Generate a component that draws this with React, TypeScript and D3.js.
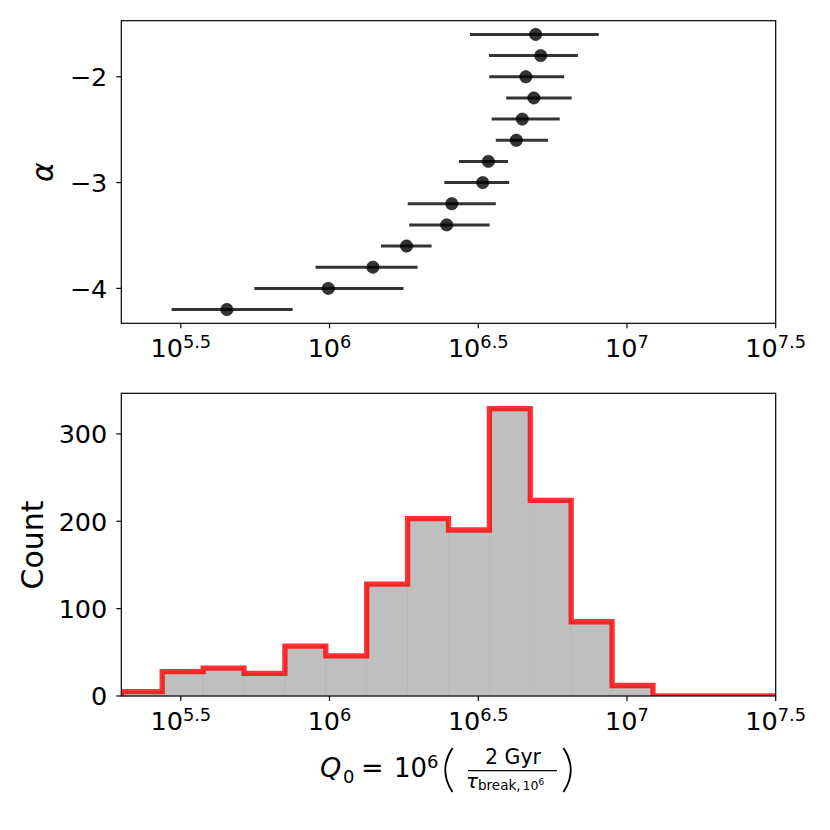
import React from "react";
import * as d3 from "d3";

// top panel: power-law slope vs log10(Q0) with 1-sigma range
const alphas = [-4.2, -4.0, -3.8, -3.6, -3.4, -3.2, -3.0, -2.8, -2.6, -2.4, -2.2, -2.0, -1.8, -1.6];
const logQ = [5.655, 5.996, 6.146, 6.259, 6.394, 6.411, 6.515, 6.534, 6.628, 6.648, 6.687, 6.66, 6.71, 6.693];
const logQLow = [5.469, 5.747, 5.953, 6.173, 6.268, 6.263, 6.386, 6.435, 6.559, 6.545, 6.594, 6.537, 6.536, 6.472];
const logQHigh = [5.876, 6.249, 6.296, 6.343, 6.538, 6.559, 6.604, 6.6, 6.735, 6.774, 6.814, 6.789, 6.835, 6.905];

// bottom panel: histogram of log10(Q0)
const binEdges = [5.3, 5.4375, 5.575, 5.7125, 5.85, 5.9875, 6.125, 6.2625, 6.4, 6.5375, 6.675, 6.8125, 6.95, 7.0875, 7.225, 7.3625, 7.5];
const counts = [5, 28, 32, 26, 57, 46, 128, 203, 190, 329, 224, 85, 12, 0, 0, 0];

const xTickExps = ["5.5", "6", "6.5", "7", "7.5"];
const alphaTicks = [-4, -3, -2];
const countTicks = [0, 100, 200, 300];

const font = "DejaVu Sans";
const left = 121.3;
const right = 775.7;
const top1 = 20.7;
const bot1 = 323.3;
const top2 = 393.3;
const bot2 = 696;

const XTicks = ({ x, y0 }: { x: d3.ScaleLogarithmic<number, number>; y0: number }) => (
  <g>
    {xTickExps.map((e) => {
      const px = x(Math.pow(10, +e));
      return (
        <g key={e}>
          <line x1={px} x2={px} y1={y0} y2={y0 + 5} stroke="black" strokeWidth={1.2} />
          <text x={px} y={y0 + 33.5} textAnchor="middle" fontFamily={font} fontSize={25.5}>
            10<tspan fontSize={17.8} dy={-9}>{e}</tspan>
          </text>
        </g>
      );
    })}
  </g>
);

export default function App() {
  const x = d3.scaleLog().domain([Math.pow(10, 5.3), Math.pow(10, 7.5)]).range([left, right]);
  const yA = d3.scaleLinear().domain([-4.33, -1.47]).range([bot1, top1]);
  const yC = d3.scaleLinear().domain([0, 346.5]).range([bot2, top2]);

  const stepPts: [number, number][] = [[x(Math.pow(10, binEdges[0])), yC(0)]];
  counts.forEach((c, i) => {
    stepPts.push([x(Math.pow(10, binEdges[i])), yC(c)]);
    stepPts.push([x(Math.pow(10, binEdges[i + 1])), yC(c)]);
  });
  stepPts.push([x(Math.pow(10, binEdges[binEdges.length - 1])), yC(0)]);
  const stepPath = d3.line()(stepPts) || "";

  return (
    <svg width={830} height={830} style={{ position: "absolute", left: 0, top: 0, background: "white" }}>
      <defs>
        <clipPath id="clip2">
          <rect x={left} y={top2} width={right - left} height={bot2 - top2} />
        </clipPath>
      </defs>

      {/* top panel */}
      {alphas.map((a, i) => (
        <g key={i}>
          <line
            x1={x(Math.pow(10, logQLow[i]))}
            x2={x(Math.pow(10, logQHigh[i]))}
            y1={yA(a)}
            y2={yA(a)}
            stroke="black"
            strokeOpacity={0.8}
            strokeWidth={3}
          />
          <circle cx={x(Math.pow(10, logQ[i]))} cy={yA(a)} r={6.2} fill="black" fillOpacity={0.8} stroke="black" strokeOpacity={0.5} strokeWidth={1} />
        </g>
      ))}
      <rect x={left} y={top1} width={right - left} height={bot1 - top1} fill="none" stroke="black" strokeWidth={1.2} />
      {alphaTicks.map((t) => (
        <g key={t}>
          <line x1={left - 5} x2={left} y1={yA(t)} y2={yA(t)} stroke="black" strokeWidth={1.2} />
          <text x={left - 14} y={yA(t) + 9.3} textAnchor="end" fontFamily={font} fontSize={25.5}>
            {"\u2212" + Math.abs(t)}
          </text>
        </g>
      ))}
      <XTicks x={x} y0={bot1} />
      <text transform="translate(53,172) rotate(-90)" textAnchor="middle" fontFamily={font} fontStyle="italic" fontSize={30}>
        α
      </text>

      {/* bottom panel */}
      {counts.map((c, i) =>
        c > 0 ? (
          <rect
            key={i}
            x={x(Math.pow(10, binEdges[i]))}
            y={yC(c)}
            width={x(Math.pow(10, binEdges[i + 1])) - x(Math.pow(10, binEdges[i]))}
            height={yC(0) - yC(c)}
            fill="#bfbfbf"
            stroke="#b4b4b4"
            strokeWidth={0.6}
          />
        ) : null
      )}
      <path d={stepPath} fill="none" stroke="red" strokeOpacity={0.8} strokeWidth={5.3} strokeLinejoin="miter" clipPath="url(#clip2)" />
      <rect x={left} y={top2} width={right - left} height={bot2 - top2} fill="none" stroke="black" strokeWidth={1.2} />
      {countTicks.map((t) => (
        <g key={t}>
          <line x1={left - 5} x2={left} y1={yC(t)} y2={yC(t)} stroke="black" strokeWidth={1.2} />
          <text x={left - 14} y={yC(t) + 9.3} textAnchor="end" fontFamily={font} fontSize={25.5}>
            {t}
          </text>
        </g>
      ))}
      <XTicks x={x} y0={bot2} />
      <text transform="translate(42.5,545) rotate(-90)" textAnchor="middle" fontFamily={font} fontSize={30}>
        Count
      </text>

      {/* x label: Q0 = 10^6 (2 Gyr / tau_break,10^6) */}
      <g fontFamily={font}>
        <text x={320} y={777} fontSize={27} fontStyle="italic">Q</text>
        <text x={343} y={783} fontSize={18}>0</text>
        <text x={361} y={777} fontSize={27} textLength={27}>=</text>
        <text x={394} y={777} fontSize={26}>
          10<tspan fontSize={18} dy={-9.5}>6</tspan>
        </text>
        <path d="M452.5,748 Q438,770 452.5,792" fill="none" stroke="black" strokeWidth={1.8} />
        <text x={513} y={764} fontSize={20.5} textAnchor="middle">2 Gyr</text>
        <line x1={468} x2={557} y1={770.7} y2={770.7} stroke="black" strokeWidth={1.3} />
        <text x={466} y={788} fontSize={20} fontStyle="italic">τ</text>
        <text x={478} y={789.5} fontSize={13.5}>break,</text>
        <text x={522.5} y={789.5} fontSize={12.5}>
          10<tspan fontSize={9} dy={-5}>6</tspan>
        </text>
        <path d="M563.5,748 Q578,770 563.5,792" fill="none" stroke="black" strokeWidth={1.8} />
      </g>
    </svg>
  );
}
